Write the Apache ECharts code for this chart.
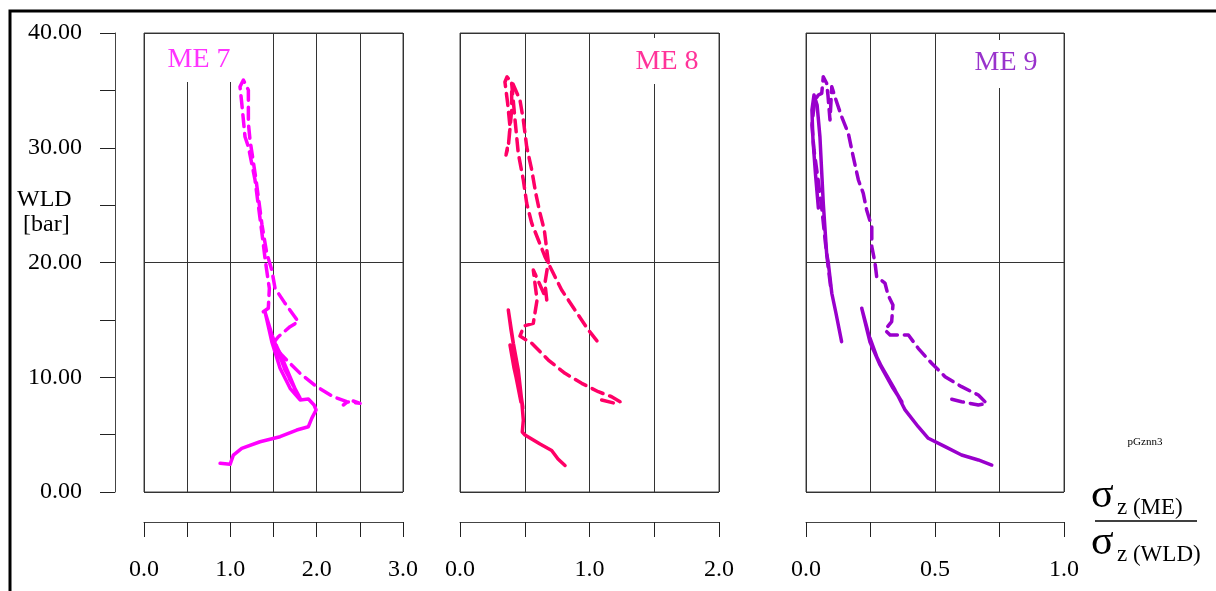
<!DOCTYPE html>
<html>
<head>
<meta charset="utf-8">
<script src="https://cdn.jsdelivr.net/npm/echarts@6/dist/echarts.min.js"></script>
<style>
html,body{margin:0;padding:0;background:#fff;}
#chart{width:1216px;height:591px;}
</style>
</head>
<body>
<div id="chart"></div>
<script>
// ---- data: [ratio sigma_z(ME)/sigma_z(WLD), WLD pressure in bar] ----
var me7Dashed = [[1.382,15.71],[1.440,16.01],[1.452,17.75],[1.429,18.91],[1.402,20.37],[1.364,22.68],[1.286,27.19],[1.209,30.09],[1.170,30.96],[1.132,33.90],[1.112,35.32],[1.151,35.90],[1.209,35.03],[1.209,32.13],[1.228,30.68],[1.298,27.19],[1.367,23.27],[1.422,20.80],[1.480,19.35],[1.518,17.75],[1.634,16.44],[1.788,14.84],[1.692,14.41],[1.556,13.53],[1.506,13.07],[1.530,12.55],[1.596,11.94],[1.672,11.36],[1.808,10.34],[2.001,9.18],[2.193,8.30],[2.349,7.87],[2.503,7.73],[2.387,8.02],[2.309,7.58]];
var me7Solid = [[0.881,2.50],[0.997,2.41],[1.035,3.22],[1.132,3.81],[1.344,4.38],[1.576,4.82],[1.769,5.40],[1.904,5.69],[1.943,6.42],[1.993,7.15],[1.970,7.58],[1.904,8.10],[1.808,8.02],[1.692,9.04],[1.576,10.78],[1.480,13.10],[1.402,15.69],[1.483,13.68],[1.634,10.63],[1.808,8.19],[1.692,9.76],[1.530,12.81],[1.599,11.68],[1.785,8.37]];
var me8Dashed = [[1.094,8.02],[1.197,7.73],[1.236,7.87],[1.171,8.30],[1.068,8.74],[0.940,9.47],[0.811,10.34],[0.682,11.50],[0.554,12.96],[0.463,13.59],[0.494,14.47],[0.566,14.70],[0.595,16.73],[0.566,19.35],[0.618,18.04],[0.670,16.73],[0.656,18.21],[0.682,20.04],[0.651,22.83],[0.618,24.29],[0.585,26.03],[0.554,28.06],[0.515,30.09],[0.489,32.42],[0.463,34.16],[0.409,35.56],[0.363,36.17],[0.347,35.73],[0.368,33.87],[0.386,31.83],[0.373,30.09],[0.355,29.37],[0.378,30.68],[0.399,33.29],[0.399,35.62],[0.425,32.42],[0.450,29.52],[0.489,27.19],[0.515,25.16],[0.554,23.42],[0.605,21.96],[0.656,20.51],[0.708,19.35],[0.785,17.60],[0.888,15.86],[0.991,14.12],[1.063,13.10]];
var me8Solid = [[0.811,2.31],[0.757,2.88],[0.708,3.62],[0.618,4.18],[0.502,4.97],[0.481,5.23],[0.489,6.27],[0.476,8.02],[0.450,10.63],[0.412,12.96],[0.373,15.86],[0.394,14.12],[0.432,11.50],[0.471,8.45],[0.486,7.32],[0.417,10.81],[0.386,12.81],[0.425,10.46],[0.471,7.84]];
var me9Dashed = [[0.565,8.08],[0.603,7.87],[0.668,7.58],[0.700,7.73],[0.668,8.45],[0.603,9.18],[0.539,10.05],[0.487,11.22],[0.435,12.52],[0.397,13.68],[0.326,13.68],[0.306,14.12],[0.332,14.84],[0.337,16.30],[0.318,17.17],[0.306,18.21],[0.274,18.76],[0.267,20.04],[0.255,21.38],[0.255,23.12],[0.235,24.58],[0.222,26.03],[0.203,27.19],[0.183,29.22],[0.164,31.26],[0.138,32.71],[0.112,34.45],[0.100,35.32],[0.093,32.42],[0.085,34.60],[0.080,35.62],[0.067,36.19],[0.061,34.74],[0.048,34.60],[0.035,34.16],[0.028,33.00],[0.023,31.98],[0.031,29.80],[0.047,27.19],[0.062,24.58],[0.074,21.96],[0.085,19.78],[0.097,17.60]];
var me9SolidUpper = [[0.138,13.10],[0.116,15.60],[0.100,17.32],[0.086,20.04],[0.080,20.80],[0.067,25.16],[0.054,30.96],[0.043,33.73],[0.031,34.60],[0.023,33.29],[0.027,30.68],[0.037,27.63],[0.048,24.75]];
var me9SolidLower = [[0.720,2.35],[0.668,2.79],[0.603,3.22],[0.539,3.95],[0.474,4.68],[0.435,5.69],[0.384,7.15],[0.345,8.89],[0.293,10.92],[0.255,12.66],[0.235,14.41],[0.216,16.01],[0.229,14.81],[0.248,13.07],[0.287,11.07],[0.337,9.06],[0.372,7.84],[0.333,9.32],[0.279,11.50],[0.248,13.42]];

var panelNames = ['ME 7', 'ME 8', 'ME 9'];
var panelMax = [3, 2, 1];
var panelTickStep = [0.5, 0.5, 0.25];
var panelLabelStep = [1, 1, 0.5];
var yTickStep = 5, yLabelStep = 10, yMax = 40, yRefLine = 20;

var colors = ['#ff00ff', '#ff0066', '#9900cc'];
var labelColors = ['#ff33ff', '#ff3399', '#9933cc'];
var FONT = 'Liberation Serif';

var grids = [
  {left: 144, width: 259, top: 33, height: 459},
  {left: 460, width: 259, top: 33, height: 459},
  {left: 806, width: 258, top: 33, height: 459}
];

var xAxes = [], yAxes = [];
grids.forEach(function (g, i) {
  g.show = true; g.borderColor = '#444'; g.borderWidth = 1; g.backgroundColor = 'transparent';
  xAxes.push({
    gridIndex: i, type: 'value', min: 0, max: panelMax[i], interval: panelTickStep[i],
    axisLine: {show: false, onZero: false}, axisTick: {show: false}, axisLabel: {show: false},
    splitLine: {show: true, lineStyle: {color: '#333', width: 1}}
  });
  var step = panelLabelStep[i];
  xAxes.push({
    gridIndex: i, type: 'value', position: 'bottom', offset: 30,
    min: 0, max: panelMax[i], interval: panelTickStep[i],
    axisLine: {show: true, onZero: false, lineStyle: {color: '#444', width: 1}},
    axisTick: {show: true, length: 15, lineStyle: {color: '#222', width: 1}},
    axisLabel: {show: true, margin: 36, fontFamily: FONT, fontSize: 24, color: '#000',
      formatter: function (v) {
        var r = v / step;
        return Math.abs(r - Math.round(r)) < 1e-6 ? v.toFixed(1) : '';
      }},
    splitLine: {show: false}
  });
  yAxes.push({
    gridIndex: i, type: 'value', min: 0, max: yMax, interval: yRefLine,
    axisLine: {show: false, onZero: false}, axisTick: {show: false}, axisLabel: {show: false},
    splitLine: {show: true, lineStyle: {color: '#333', width: 1}}
  });
});
yAxes.push({
  gridIndex: 0, type: 'value', position: 'left', offset: 29, min: 0, max: yMax, interval: yTickStep,
  axisLine: {show: true, onZero: false, lineStyle: {color: '#444', width: 1}},
  axisTick: {show: true, length: 15, lineStyle: {color: '#222', width: 1}},
  axisLabel: {show: true, margin: 33, fontFamily: FONT, fontSize: 24, color: '#000',
    formatter: function (v) { return v % yLabelStep === 0 ? v.toFixed(2) : ''; }},
  splitLine: {show: false}
});

function line(data, panel, dashed) {
  return {
    type: 'line', data: data, xAxisIndex: panel * 2, yAxisIndex: panel,
    symbol: 'none', smooth: false, silent: true,
    lineStyle: {color: colors[panel], width: 3.5, type: dashed ? [12, 7] : 'solid', cap: 'round', join: 'round'},
    z: 5
  };
}

var series = [
  line(me7Solid, 0, false), line(me7Dashed, 0, true),
  line(me8Solid, 1, false), line(me8Dashed, 1, true),
  line(me9SolidUpper, 2, false), line(me9SolidLower, 2, false), line(me9Dashed, 2, true)
];

var labelBoxes = [
  {x: 160, y: 34, w: 78, h: 48, tx: 199, ty: 60},
  {x: 630, y: 38, w: 76, h: 46, tx: 667, ty: 62},
  {x: 968, y: 40, w: 76, h: 48, tx: 1006, ty: 63}
];
var graphics = [
  {type: 'rect', shape: {x: 10, y: 11, width: 1400, height: 800}, style: {fill: 'none', stroke: '#000', lineWidth: 3}, z: 100, silent: true}
];
labelBoxes.forEach(function (b, i) {
  graphics.push({type: 'rect', shape: {x: b.x, y: b.y, width: b.w, height: b.h}, style: {fill: '#fff'}, z: 50});
  graphics.push({type: 'text', x: b.tx, y: b.ty, style: {text: panelNames[i], font: '28px "' + FONT + '"', fill: labelColors[i], align: 'center', verticalAlign: 'middle'}, z: 51});
});
graphics.push(
  {type: 'text', x: 17, y: 200, style: {text: 'WLD', font: '24px "' + FONT + '"', fill: '#000', align: 'left', verticalAlign: 'middle'}, z: 51},
  {type: 'text', x: 23, y: 225, style: {text: '[bar]', font: '24px "' + FONT + '"', fill: '#000', align: 'left', verticalAlign: 'middle'}, z: 51},
  {type: 'text', x: 1145, y: 442, style: {text: 'pGznn3', font: '11px "' + FONT + '"', fill: '#000', align: 'center', verticalAlign: 'middle'}, z: 51},
  {type: 'text', x: 1091, y: 496, style: {text: 'σ', font: '42px "' + FONT + '"', fill: '#000', align: 'left', verticalAlign: 'middle'}, z: 51},
  {type: 'text', x: 1117, y: 508, style: {text: 'z (ME)', font: '23px "' + FONT + '"', fill: '#000', align: 'left', verticalAlign: 'middle'}, z: 51},
  {type: 'line', shape: {x1: 1095, y1: 521, x2: 1197, y2: 521}, style: {stroke: '#000', lineWidth: 1.5}, z: 51},
  {type: 'text', x: 1091, y: 543, style: {text: 'σ', font: '42px "' + FONT + '"', fill: '#000', align: 'left', verticalAlign: 'middle'}, z: 51},
  {type: 'text', x: 1117, y: 555, style: {text: 'z (WLD)', font: '23px "' + FONT + '"', fill: '#000', align: 'left', verticalAlign: 'middle'}, z: 51}
);

var chart = echarts.init(document.getElementById('chart'), null, {renderer: 'canvas'});
chart.setOption({
  animation: false,
  backgroundColor: '#fff',
  grid: grids,
  xAxis: xAxes,
  yAxis: yAxes,
  series: series,
  graphic: graphics
});
</script>
</body>
</html>
